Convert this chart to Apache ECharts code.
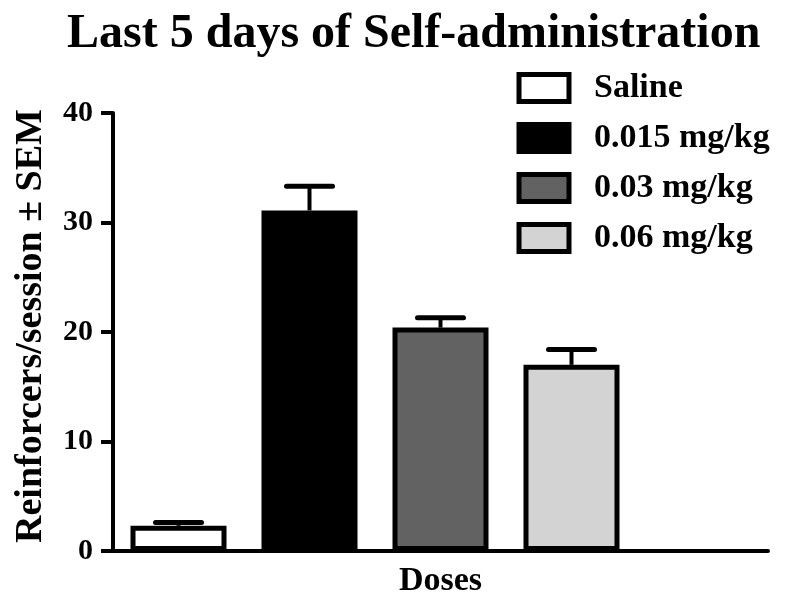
<!DOCTYPE html>
<html>
<head>
<meta charset="utf-8">
<script src="https://cdn.jsdelivr.net/npm/echarts@6/dist/echarts.min.js"></script>
<style>
html,body{margin:0;padding:0;background:#fff;}
#main{width:800px;height:607px;}
</style>
</head>
<body>
<div id="main"></div>
<script>
var categories = ['Saline', '0.015 mg/kg', '0.03 mg/kg', '0.06 mg/kg', ''];
var seriesNames = ['Saline', '0.015 mg/kg', '0.03 mg/kg', '0.06 mg/kg'];
var means = [2.3, 31.1, 20.4, 17.0];
var sems = [0.3, 2.2, 0.9, 1.4];
var colors = ['#ffffff', '#000000', '#626262', '#d3d3d3'];
var yTicks = [0, 10, 20, 30, 40];

var FONT = 'Liberation Serif';
var chart = echarts.init(document.getElementById('main'));

var series = seriesNames.map(function (name, i) {
  var data = categories.map(function (c, j) { return j === i ? means[i] : '-'; });
  return {
    name: name,
    type: 'bar',
    data: data,
    barWidth: 96,
    barGap: '-100%',
    itemStyle: { color: colors[i], borderColor: '#000', borderWidth: 5 },
    z: 2
  };
});

var errData = means.map(function (m, i) { return [i, m, m + sems[i]]; });
series.push({
  type: 'custom',
  name: 'SEM',
  data: errData,
  z: 1,
  renderItem: function (params, api) {
    var x = api.value(0);
    var p0 = api.coord([x, api.value(1)]);
    var p1 = api.coord([x, api.value(2)]);
    var half = 23;
    return {
      type: 'group',
      children: [
        { type: 'line', shape: { x1: p0[0], y1: p0[1], x2: p1[0], y2: p1[1] }, style: { stroke: '#000', lineWidth: 4 } },
        { type: 'line', shape: { x1: p1[0] - half, y1: p1[1], x2: p1[0] + half, y2: p1[1] }, style: { stroke: '#000', lineWidth: 5, lineCap: 'round' } }
      ]
    };
  }
});

chart.setOption({
  animation: false,
  backgroundColor: '#fff',
  title: {
    text: 'Last 5 days of Self-administration',
    left: 62,
    top: 6,
    textStyle: { fontFamily: FONT, fontWeight: 'bold', fontSize: 48, color: '#000' }
  },
  legend: {
    data: seriesNames,
    orient: 'vertical',
    left: 511.5,
    top: 66,
    icon: 'rect',
    itemWidth: 50,
    itemHeight: 27,
    itemGap: 16,
    itemStyle: { borderColor: '#000', borderWidth: 5 },
    textStyle: { fontFamily: FONT, fontWeight: 'bold', fontSize: 34, color: '#000', padding: [0, 0, 0, 20] }
  },
  grid: { left: 113, right: 32, top: 113, bottom: 56, outerBoundsMode: 'none', containLabel: false },
  xAxis: {
    type: 'category',
    data: categories,
    name: 'Doses',
    nameLocation: 'middle',
    nameGap: 13,
    nameTextStyle: { fontFamily: FONT, fontWeight: 'bold', fontSize: 34, color: '#000', verticalAlign: 'top' },
    axisLine: { lineStyle: { color: '#000', width: 4 } },
    axisTick: { show: false },
    axisLabel: { show: false },
    splitLine: { show: false }
  },
  yAxis: {
    type: 'value',
    min: yTicks[0],
    max: yTicks[yTicks.length - 1],
    interval: 10,
    name: 'Reinforcers/session \u00b1 SEM',
    nameLocation: 'middle',
    nameGap: 63,
    nameTextStyle: { fontFamily: FONT, fontWeight: 'bold', fontSize: 38, color: '#000', padding: [0, 0, 0, 12] },
    axisLine: { show: true, lineStyle: { color: '#000', width: 4 } },
    axisTick: { show: true, length: 12, lineStyle: { color: '#000', width: 4 } },
    axisLabel: { fontFamily: FONT, fontWeight: 'bold', fontSize: 30, color: '#000', margin: 20 },
    splitLine: { show: false }
  },
  series: series
});
</script>
</body>
</html>
